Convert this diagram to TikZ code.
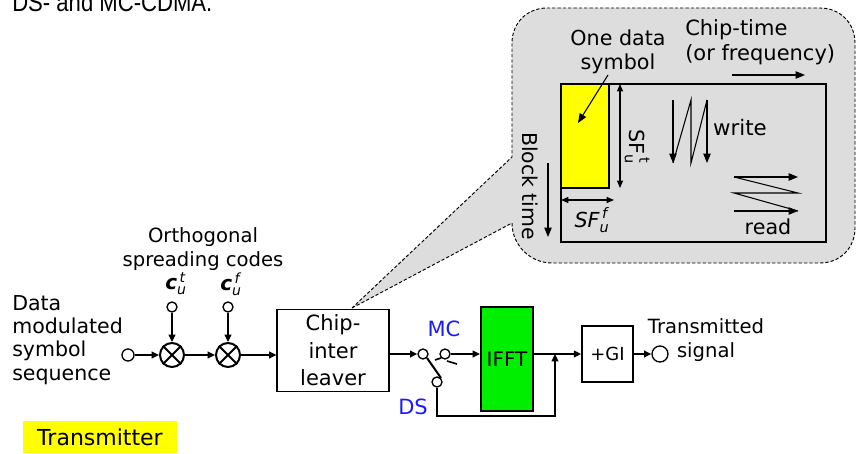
\documentclass[tikz,border=0pt]{standalone}
\usepackage{amsmath}
\usepackage{fontspec}
\setmainfont{DejaVu Sans}
\newfontfamily\titlefont{Liberation Sans}
\usetikzlibrary{arrows.meta,calc}
\definecolor{bubblegray}{HTML}{DDDDDD}
\definecolor{ifftgreen}{HTML}{00EE00}
\definecolor{labelblue}{HTML}{1A1AFF}
\definecolor{tagyellow}{HTML}{FFFF00}
\newcommand{\lblfont}[1]{\fontsize{#1}{18}\selectfont}
\tikzset{
  flow/.style={line width=1.5pt,-{Triangle[length=5.5pt,width=5pt]}},
  thinarrow/.style={line width=0.8pt,-{Triangle[length=7pt,width=5.5pt]}},
  span/.style={line width=0.8pt,{Triangle[length=5.5pt,width=4.5pt]}-{Triangle[length=5.5pt,width=4.5pt]}},
  terminal/.style={circle,draw,line width=1pt,inner sep=0pt,minimum size=#1},
  mixer/.style={circle,draw,line width=1.5pt,inner sep=0pt,minimum size=18pt},
  blockbox/.style={draw,line width=1.5pt,align=center,inner sep=0pt},
  txt/.style={inner sep=0pt,align=center,font=\lblfont{15}},
}

\begin{document}
\begin{tikzpicture}[x=0.75pt,y=-0.75pt]
  \useasboundingbox (0,0) rectangle (856,453);
  % title, cut by the top of the page
  \node[anchor=base west,inner sep=0pt,font=\titlefont\fontsize{19.5}{22}\selectfont] (title) at (12,12) {\scalebox{0.85}[1]{DS- and MC-CDMA.}};

  % callout bubble
  \draw[line width=0.7pt,dash pattern=on 2.5pt off 1.5pt,fill=bubblegray]
    (352,308) -- (512,223) .. controls (512,245) and (530,263) .. (552,263)
    -- (820,263) .. controls (840,263) and (855,248) .. (855,228)
    -- (855,43) .. controls (855,23) and (840,8) .. (820,8)
    -- (547,8) .. controls (527,8) and (512,23) .. (512,43) -- (512,157) -- cycle;
  \draw[line width=1.6pt] (561,84) rectangle (826,242);
  \draw[line width=1.6pt,fill=tagyellow] (561,84) rectangle (609,188);
  \node[txt,font=\lblfont{15.5}] (symlbl) at (618,52) {One data\\symbol};
  \draw[thinarrow] (608,75) -- (578,123);
  \node[txt,align=left,anchor=west,font=\fontsize{15.75}{18.75}\selectfont] (chiplbl) at (685,42) {Chip-time\\(or frequency)};
  \draw[thinarrow] (732,75) -- (805,75);
  \node[txt,rotate=-90,font=\lblfont{15.3}] (blocklbl) at (530,186) {Block time};
  \draw[thinarrow] (548,163) -- (548,237);
  \draw[span] (620,84) -- (620,188);
  \node[txt,rotate=-90,font=\lblfont{15.5}] (sftlbl) at (637,147) {$\text{SF}_{\text{u}}^{\,\text{t}}$};
  \draw[span] (561,200) -- (614,200);
  \node[txt,font=\lblfont{15.5}] (sfflbl) at (592,220) {$\textit{SF}_{\textit{u}}^{\,\textit{f}}$};
  % write / read order
  \draw[thinarrow] (673,100) -- (673,163);
  \draw[line width=0.8pt] (673,163) -- (691,100) -- (691,163) -- (707,100);
  \draw[thinarrow] (707,100) -- (707,163);
  \node[txt,font=\lblfont{16}] (writelbl) at (740,128) {write};
  \foreach \y in {177,211}{\draw[thinarrow] (734,\y) -- (798,\y);}
  \draw[line width=0.8pt] (734,177) -- (798,193) -- (734,193) -- (798,211);
  \node[txt,font=\lblfont{15.5}] (readlbl) at (768,227) {read};

  % transmitter chain
  \node[txt,align=left,anchor=west,font=\fontsize{15.4}{17.4}\selectfont] (datalbl) at (12,340) {Data\\modulated\\symbol\\sequence};
  \node[terminal=9pt] (src) at (128,355) {};
  \node[mixer] (mixa) at (172,355) {};
  \node[mixer] (mixb) at (228,355) {};
  \foreach \m in {mixa,mixb}{
    \draw[line width=1.5pt] (\m.north west) -- (\m.south east) (\m.north east) -- (\m.south west);}
  \node[terminal=7.5pt] (codet) at (172,307) {};
  \node[terminal=7.5pt] (codef) at (228,307) {};
  \node[txt,font=\lblfont{15}] (codetlbl) at (176,284) {$\textbf{\textit{c}}_{\textit{u}}^{\,\textit{t}}$};
  \node[txt,font=\lblfont{15}] (codeflbl) at (231,284) {$\textbf{\textit{c}}_{\textit{u}}^{\,\textit{f}}$};
  \node[txt,font=\fontsize{14.7}{17.5}\selectfont] (orthlbl) at (203,249) {Orthogonal\\spreading codes};
  \node[draw,line width=0.8pt,align=center,inner sep=0pt,minimum width=84pt,minimum height=62pt,
    font=\fontsize{15.75}{20.6}\selectfont] (chip) at (333,350.5) {Chip-\\inter\\leaver};
  \draw[flow] (src) -- (mixa);
  \draw[flow] (mixa) -- (mixb);
  \draw[flow] (mixb) -- (mixb -| chip.west);
  \draw[flow] (codet) -- (mixa);
  \draw[flow] (codef) -- (mixb);

  % MC / DS switch
  \node[terminal=7.5pt] (pivot) at (423,354) {};
  \node[terminal=7.5pt] (mc) at (445,354) {};
  \node[terminal=7.5pt] (ds) at (437,382) {};
  \draw[flow] (chip.east |- pivot) -- (pivot);
  \draw[line width=1.5pt] (pivot.south east) -- (ds.north east);
  \draw[line width=1.2pt] (435,360) -- (441,358) (447,361) -- (457,364);
  \node[txt,text=labelblue,font=\lblfont{15.75}] (mclbl) at (444,329) {MC};
  \node[txt,text=labelblue,font=\lblfont{15.75}] (dslbl) at (413,407) {DS};

  \node[blockbox,fill=ifftgreen,minimum width=39pt,minimum height=78pt,font=\lblfont{15}] (ifft) at (507,359) {IFFT};
  \node[blockbox,minimum width=38pt,minimum height=42pt,font=\lblfont{13.5}] (gi) at (607.5,354) {+GI};
  \node[terminal=12pt] (out) at (660,354) {};
  \node[txt,font=\lblfont{14.7}] (outlbl) at (706,340) {Transmitted\\signal};
  \coordinate (join) at (555,354);
  \coordinate (dsbend) at (555,416);
  \draw[flow] (mc) -- (mc -| ifft.west);
  \draw[flow] (ifft.east |- gi) -- (gi);
  \draw[flow] (ds) |- (dsbend) -- (join);
  \draw[flow] (gi) -- (out);

  \node[fill=tagyellow,inner sep=0pt,minimum width=115.5pt,minimum height=24pt,font=\lblfont{16.5}] (txtag) at (100,437) {Transmitter};
\end{tikzpicture}
\end{document}
